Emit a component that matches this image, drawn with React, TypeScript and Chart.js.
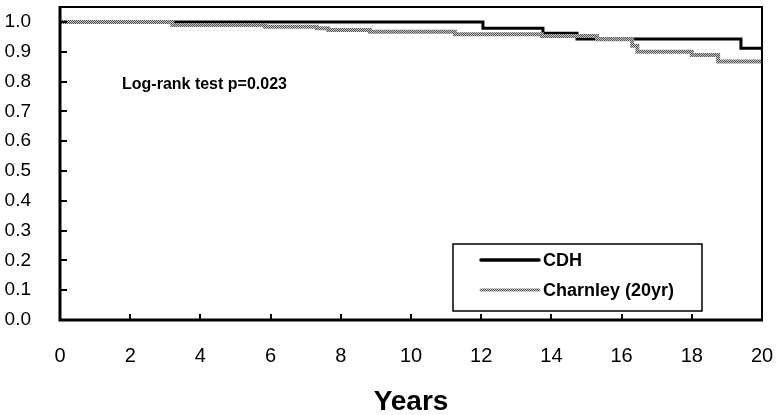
import { useEffect, useRef } from "react";
import { Chart, registerables } from "chart.js";

Chart.register(...registerables);

// ---- data ----
const seriesLabels = ["CDH", "Charnley (20yr)"];
const cdhYears = [0, 12.05, 13.76, 14.73, 19.4, 20];
const cdhSurvival = [1.0, 0.979, 0.962, 0.943, 0.912, 0.912];
const charnleyYears = [0, 3.2, 5.84, 7.32, 7.64, 8.83, 11.25, 13.73, 15.3, 16.3, 16.45, 18.0, 18.75, 20];
const charnleySurvival = [1.0, 0.99, 0.984, 0.979, 0.973, 0.967, 0.959, 0.953, 0.942, 0.92, 0.9, 0.889, 0.867, 0.867];
const yTickValues = [0, 0.1, 0.2, 0.3, 0.4, 0.5, 0.6, 0.7, 0.8, 0.9, 1.0];
const xTickValues = [0, 2, 4, 6, 8, 10, 12, 14, 16, 18, 20];
const xTitle = "Years";
const annotationText = "Log-rank test p=0.023";

const FONT = '"Liberation Sans", Arial, sans-serif';

function makeChecker(): CanvasPattern | string {
  const c = document.createElement("canvas");
  c.width = 2;
  c.height = 2;
  const g = c.getContext("2d");
  if (!g) return "#999";
  g.fillStyle = "#c4c4c4";
  g.fillRect(0, 0, 2, 2);
  g.fillStyle = "#555555";
  g.fillRect(0, 0, 1, 1);
  g.fillRect(1, 1, 1, 1);
  const p = g.createPattern(c, "repeat");
  return p || "#999";
}

const decorPlugin = {
  id: "decor",
  afterDraw(chart: any) {
    const { ctx, chartArea } = chart;
    const xs = chart.scales.x;
    const ys = chart.scales.y;
    const { left, right, top, bottom } = chartArea;
    ctx.save();
    ctx.strokeStyle = "#000";
    // frame
    ctx.lineWidth = 2;
    ctx.beginPath();
    ctx.moveTo(left, top);
    ctx.lineTo(right, top);
    ctx.lineTo(right, bottom);
    ctx.stroke();
    ctx.lineWidth = 3;
    ctx.beginPath();
    ctx.moveTo(left, top - 1);
    ctx.lineTo(left, bottom);
    ctx.lineTo(right + 1, bottom);
    ctx.stroke();
    // inward tick marks
    ctx.lineWidth = 2;
    ctx.beginPath();
    yTickValues.forEach((v) => {
      if (v <= 0) return;
      const py = Math.round(ys.getPixelForValue(v));
      ctx.moveTo(left, py);
      ctx.lineTo(left + 7, py);
    });
    xTickValues.forEach((v) => {
      if (v <= 0 || v >= 20) return;
      const px = Math.round(xs.getPixelForValue(v));
      ctx.moveTo(px, bottom);
      ctx.lineTo(px, bottom - 6);
    });
    ctx.stroke();

    // annotation
    ctx.fillStyle = "#000";
    ctx.font = `bold 16px ${FONT}`;
    ctx.textAlign = "left";
    ctx.textBaseline = "middle";
    ctx.fillText(annotationText, 122, 85);

    // legend box
    const bx = 453, by = 244, bw = 249, bh = 67;
    ctx.lineWidth = 1.5;
    ctx.strokeStyle = "#000";
    ctx.strokeRect(bx, by, bw, bh);
    const rows = [260, 290];
    chart.data.datasets.forEach((ds: any, i: number) => {
      const y = rows[i];
      ctx.save();
      ctx.strokeStyle = ds.borderColor;
      ctx.lineWidth = i === 0 ? 3.5 : 3;
      ctx.lineCap = "round";
      ctx.beginPath();
      ctx.moveTo(481, y);
      ctx.lineTo(539, y);
      ctx.stroke();
      ctx.restore();
      ctx.fillStyle = "#000";
      ctx.font = `bold 18px ${FONT}`;
      ctx.textBaseline = "middle";
      ctx.fillText(ds.label, 543, y + 1);
    });
    ctx.restore();
  },
};

function zeroPad(scale: any) {
  scale.paddingTop = 0;
  scale.paddingBottom = 0;
  scale.paddingLeft = 0;
  scale.paddingRight = 0;
}

export default function App() {
  const ref = useRef<HTMLCanvasElement | null>(null);
  useEffect(() => {
    if (!ref.current) return;
    const checker = makeChecker();
    const chart = new Chart(ref.current, {
      type: "line",
      data: {
        datasets: [
          {
            label: seriesLabels[0],
            data: cdhYears.map((x, i) => ({ x, y: cdhSurvival[i] })),
            borderColor: "#000",
            borderWidth: 3,
            stepped: "before",
            pointRadius: 0,
            fill: false,
            order: 2,
          },
          {
            label: seriesLabels[1],
            data: charnleyYears.map((x, i) => ({ x, y: charnleySurvival[i] })),
            borderColor: checker as any,
            borderWidth: 4,
            stepped: "before",
            pointRadius: 0,
            fill: false,
            order: 1,
          },
        ],
      },
      options: {
        animation: false,
        responsive: false,
        devicePixelRatio: 1,
        layout: { padding: { top: 7, right: 15, left: 0, bottom: 0 } },
        plugins: {
          legend: { display: false },
          tooltip: { enabled: false },
        },
        scales: {
          x: {
            type: "linear",
            min: 0,
            max: 20,
            grid: { display: false },
            border: { display: false },
            ticks: {
              stepSize: 2,
              color: "#000",
              font: { family: FONT, size: 20 },
              padding: 16,
              maxRotation: 0,
            },
            title: {
              display: true,
              text: xTitle,
              color: "#000",
              font: { family: FONT, size: 28, weight: "bold" },
              padding: { top: 0, bottom: -4 },
            },
            afterFit(scale: any) {
              scale.height = 95;
              zeroPad(scale);
            },
          },
          y: {
            type: "linear",
            min: 0,
            max: 1.05,
            grid: { display: false },
            border: { display: false },
            ticks: {
              stepSize: 0.1,
              includeBounds: false,
              color: "#000",
              font: { family: FONT, size: 19 },
              padding: 21,
              callback: (v: any) => Number(v).toFixed(1),
            },
            afterFit(scale: any) {
              scale.width = 60;
              zeroPad(scale);
            },
          },
        },
      },
      plugins: [decorPlugin],
    });
    return () => chart.destroy();
  }, []);
  return (
    <div style={{ position: "fixed", left: 0, top: 0, width: 777, height: 415, background: "#fff" }}>
      <canvas ref={ref} width={777} height={415} style={{ width: 777, height: 415 }} />
    </div>
  );
}
